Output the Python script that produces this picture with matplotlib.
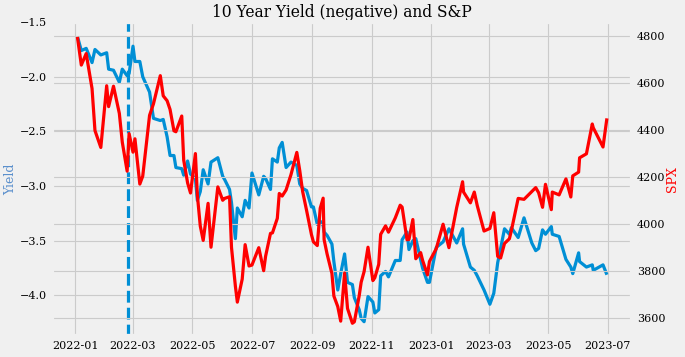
import matplotlib
matplotlib.use("Agg")
import matplotlib.pyplot as plt
import matplotlib.dates as mdates
import pandas as pd

# dates, with the 10y yield (%) and S&P 500 close at each
dates = [
    "2022-01-03", "2022-01-07", "2022-01-12", "2022-01-18", "2022-01-21", "2022-01-27",
    "2022-02-02", "2022-02-04", "2022-02-09", "2022-02-15", "2022-02-18", "2022-02-23",
    "2022-02-25", "2022-03-01", "2022-03-03", "2022-03-08", "2022-03-11", "2022-03-18",
    "2022-03-22", "2022-03-29", "2022-04-01", "2022-04-05", "2022-04-08", "2022-04-12",
    "2022-04-14", "2022-04-20", "2022-04-22", "2022-04-26", "2022-04-29", "2022-05-04",
    "2022-05-06", "2022-05-09", "2022-05-12", "2022-05-17", "2022-05-20", "2022-05-27",
    "2022-06-01", "2022-06-03", "2022-06-08", "2022-06-10", "2022-06-14", "2022-06-16",
    "2022-06-21", "2022-06-24", "2022-06-28", "2022-07-01", "2022-07-08", "2022-07-13",
    "2022-07-15", "2022-07-20", "2022-07-22", "2022-07-27", "2022-07-29", "2022-08-01",
    "2022-08-05", "2022-08-10", "2022-08-16", "2022-08-19", "2022-08-22", "2022-08-26",
    "2022-08-31", "2022-09-02", "2022-09-06", "2022-09-09", "2022-09-12", "2022-09-13",
    "2022-09-16", "2022-09-21", "2022-09-23", "2022-09-27", "2022-09-30", "2022-10-04",
    "2022-10-07", "2022-10-12", "2022-10-14", "2022-10-19", "2022-10-21", "2022-10-24",
    "2022-10-28", "2022-11-02", "2022-11-04", "2022-11-08", "2022-11-10", "2022-11-15",
    "2022-11-18", "2022-11-25", "2022-11-30", "2022-12-02", "2022-12-07", "2022-12-09",
    "2022-12-13", "2022-12-16", "2022-12-21", "2022-12-23", "2022-12-28", "2022-12-30",
    "2023-01-06", "2023-01-13", "2023-01-19", "2023-01-27", "2023-02-02", "2023-02-03",
    "2023-02-10", "2023-02-14", "2023-02-17", "2023-02-24", "2023-03-02", "2023-03-06",
    "2023-03-10", "2023-03-13", "2023-03-17", "2023-03-22", "2023-03-24", "2023-03-31",
    "2023-04-06", "2023-04-14", "2023-04-18", "2023-04-21", "2023-04-25", "2023-04-28",
    "2023-05-04", "2023-05-05", "2023-05-12", "2023-05-19", "2023-05-24", "2023-05-26",
    "2023-06-01", "2023-06-02", "2023-06-09", "2023-06-15", "2023-06-16", "2023-06-26",
    "2023-06-30",
]
yield_10y = [
    1.63, 1.76, 1.74, 1.87, 1.75, 1.80,
    1.78, 1.93, 1.94, 2.05, 1.93, 1.99,
    1.97, 1.72, 1.86, 1.86, 2.00, 2.14,
    2.38, 2.40, 2.39, 2.55, 2.72, 2.72,
    2.83, 2.84, 2.90, 2.77, 2.89, 2.93,
    3.13, 3.05, 2.85, 2.98, 2.78, 2.74,
    2.91, 2.94, 3.03, 3.15, 3.48, 3.20,
    3.28, 3.13, 3.20, 2.88, 3.08, 2.91,
    2.93, 3.03, 2.75, 2.78, 2.65, 2.60,
    2.83, 2.78, 2.81, 2.98, 3.02, 3.04,
    3.19, 3.19, 3.35, 3.32, 3.36, 3.42,
    3.45, 3.53, 3.69, 3.95, 3.80, 3.62,
    3.88, 3.90, 4.02, 4.13, 4.21, 4.24,
    4.01, 4.06, 4.16, 4.13, 3.82, 3.78,
    3.83, 3.68, 3.68, 3.49, 3.42, 3.58,
    3.50, 3.48, 3.67, 3.75, 3.88, 3.88,
    3.56, 3.51, 3.39, 3.52, 3.39, 3.53,
    3.74, 3.77, 3.82, 3.95, 4.08, 3.98,
    3.70, 3.57, 3.39, 3.44, 3.38, 3.47,
    3.29, 3.52, 3.59, 3.57, 3.40, 3.44,
    3.37, 3.44, 3.46, 3.67, 3.74, 3.80,
    3.61, 3.69, 3.74, 3.72, 3.77, 3.72,
    3.81,
]
spx = [
    4797, 4677, 4726, 4577, 4398, 4326,
    4589, 4500, 4587, 4471, 4349, 4225,
    4385, 4306, 4363, 4170, 4204, 4463,
    4512, 4632, 4546, 4525, 4488, 4397,
    4393, 4460, 4272, 4175, 4132, 4300,
    4123, 3991, 3930, 4088, 3901, 4158,
    4101, 4109, 4116, 3901, 3735, 3667,
    3765, 3912, 3821, 3825, 3899, 3801,
    3863, 3960, 3962, 4024, 4130, 4119,
    4145, 4210, 4305, 4228, 4138, 4058,
    3955, 3924, 3908, 4067, 4110, 3933,
    3873, 3789, 3693, 3648, 3586, 3791,
    3640, 3577, 3583, 3695, 3752, 3797,
    3901, 3759, 3771, 3828, 3956, 3992,
    3965, 4026, 4080, 4072, 3933, 3934,
    4019, 3852, 3878, 3845, 3783, 3840,
    3895, 3999, 3899, 4071, 4180, 4136,
    4090, 4136, 4079, 3970, 3981, 4048,
    3862, 3855, 3917, 3937, 3971, 4109,
    4105, 4138, 4155, 4133, 4071, 4169,
    4061, 4136, 4124, 4192, 4115, 4205,
    4221, 4282, 4299, 4426, 4410, 4328,
    4450,
]
event_date = "2022-02-24"

df = pd.DataFrame({"yield": yield_10y, "spx": spx}, index=pd.to_datetime(dates))

plt.style.use("fivethirtyeight")
plt.rcParams["font.family"] = "DejaVu Serif"

fig, ax1 = plt.subplots(figsize=(6.85, 3.57), dpi=100)
fig.subplots_adjust(left=0.076, right=0.923, bottom=0.059, top=0.938)

ax1.plot(df.index, -df["yield"], color="#008fd5", lw=2.3)
ax1.axvline(pd.Timestamp(event_date), color="#008fd5", ls="--", lw=2.3)
ax1.set_ylim(-4.37, -1.5)
ax1.set_ylabel("Yield", color="#5a8fcc", fontsize=9)
ax1.yaxis.set_label_coords(-0.060, 0.5)
ax1.set_title("10 Year Yield (negative) and S&P", fontsize=11.2, pad=4)

ax2 = ax1.twinx()
ax2.plot(df.index, df["spx"], color="red", lw=2.3)
ax2.set_ylim(3523, 4860)
ax2.set_ylabel("SPX", color="red", fontsize=9)
ax2.yaxis.set_label_coords(1.059, 0.5)

ax1.xaxis.set_major_locator(mdates.MonthLocator(bymonth=[1, 3, 5, 7, 9, 11]))
ax1.xaxis.set_major_formatter(mdates.DateFormatter("%Y-%m"))
ax1.set_xlim(pd.Timestamp("2021-12-08"), pd.Timestamp("2023-07-26"))
for ax in (ax1, ax2):
    ax.tick_params(labelsize=8)
    ax.grid(True, color="#cbcbcb", lw=0.8)

plt.savefig("out.png")
